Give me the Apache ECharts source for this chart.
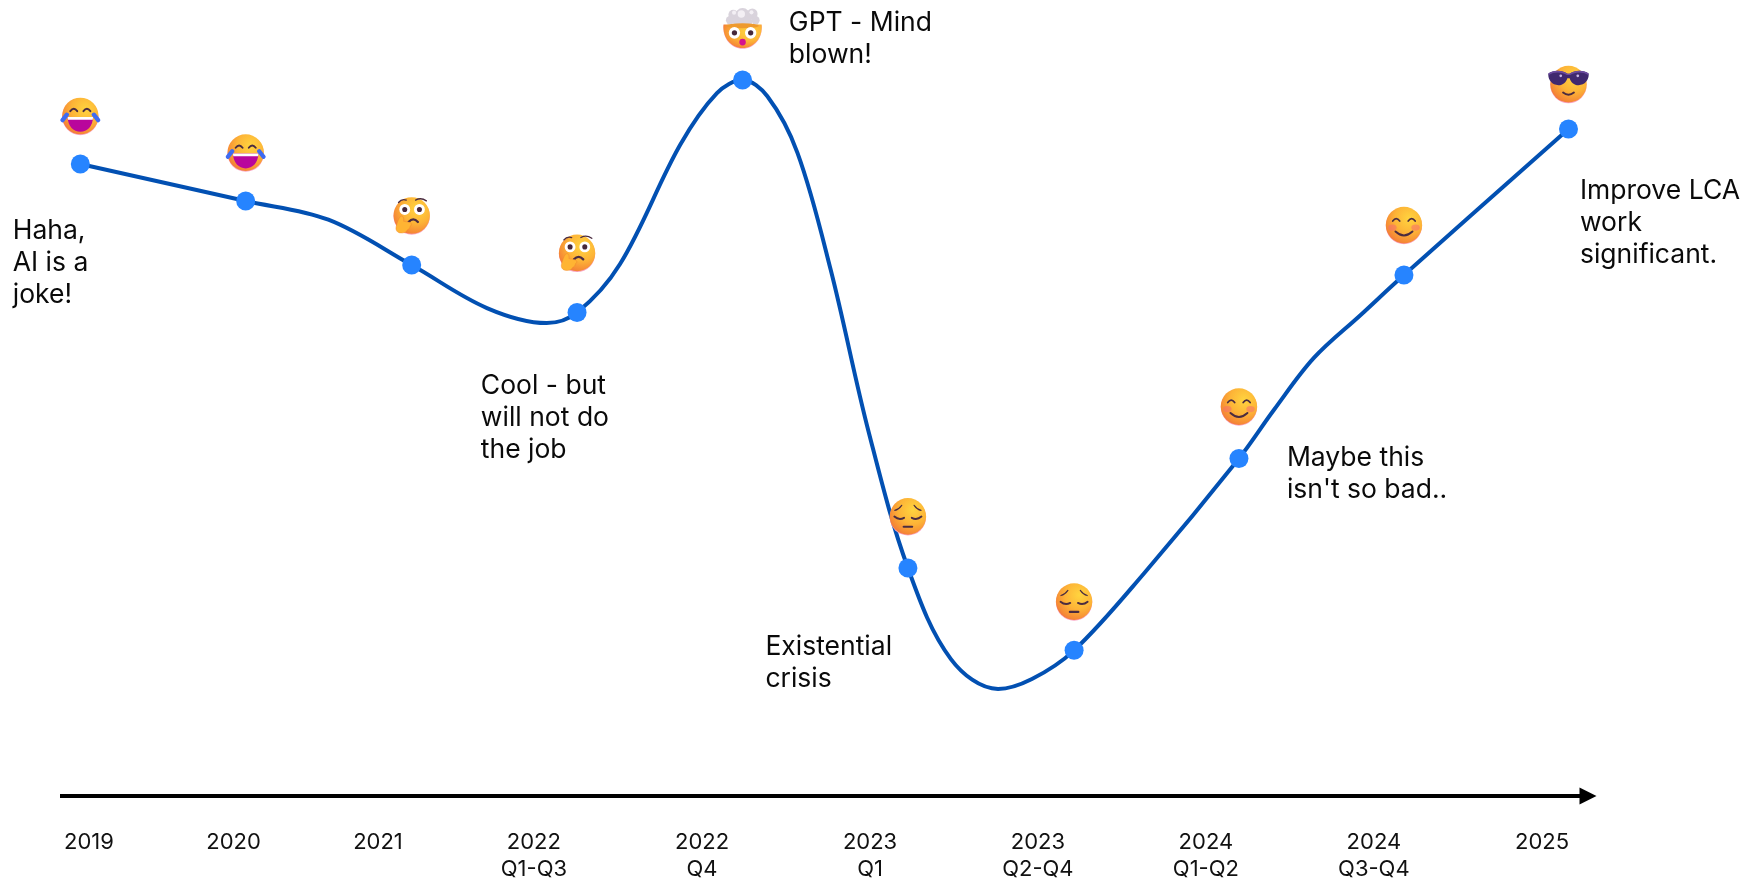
<!DOCTYPE html>
<html>
<head>
<meta charset="utf-8">
<style>html,body{margin:0;padding:0;background:#fff}#c{width:1750px;height:880px}</style>
<script src="https://cdn.jsdelivr.net/npm/echarts@6/dist/echarts.min.js"></script>
</head>
<body>
<div id="c"></div>
<script>
// Milestones (timeline position, sentiment score)
const milestoneX = [0, 1, 2.004, 3.004, 4.005, 5.005, 6.01, 7.007, 8.005, 9];
const milestoneV = [79.4, 74.75, 66.7, 60.74, 89.95, 28.64, 18.3, 42.4, 65.45, 83.79];
// Trace of the hand-drawn curve
const curveX = [0, 1, 1.5, 2.004, 2.459, 2.82, 3.004, 3.264, 3.627, 3.85, 4.005, 4.155, 4.337, 4.538, 4.768, 5.005, 5.265, 5.55, 5.755, 6.01, 6.435, 7.007, 7.218, 7.46, 7.743, 8.005, 9];
const curveV = [79.4, 74.75, 72.4, 66.7, 61.3, 59.42, 60.74, 66.83, 81.78, 88.3, 89.95, 87.9, 80.8, 66.1, 45.7, 28.64, 17.2, 13.45, 14.7, 18.3, 28.02, 42.4, 48.49, 55.03, 60.43, 65.45, 83.79];
// Emoji
const emojiV = [85.4, 80.8, 72.9, 68.2, 96.4, 35.1, 24.4, 48.9, 71.7, 89.4];
const emojiKinds = ['joy', 'joy', 'think', 'think', 'blown', 'pensive', 'pensive', 'smile', 'smile', 'cool'];
// Timeline labels
const tickLabels = ['2019', '2020', '2021', '2022\nQ1-Q3', '2022\nQ4', '2023\nQ1', '2023\nQ2-Q4', '2024\nQ1-Q2', '2024\nQ3-Q4', '2025'];
const tickX = [0.052, 0.927, 1.80, 2.743, 3.76, 4.776, 5.791, 6.807, 7.823, 8.84];
// Annotations
const noteTexts = ['Haha,\nAI is a\njoke!', 'Cool - but\nwill not do\nthe job', 'GPT - Mind\nblown!', 'Existential\ncrisis', "Maybe this\nisn't so bad..", 'Improve LCA\nwork\nsignificant.'];
const noteX = [-0.412, 2.419, 4.282, 4.14, 7.294, 9.066];
const noteV = [66.9, 47.45, 95.15, 16.7, 40.45, 72.0];

const defs = '<defs><radialGradient id="f" cx=".64" cy=".32" r=".78"><stop offset="0" stop-color="#FFD43F"/><stop offset=".5" stop-color="#FDB437"/><stop offset=".82" stop-color="#F68C35"/><stop offset="1" stop-color="#EF6F3F"/></radialGradient></defs>';
const face = '<circle cx="50" cy="51.5" r="47" fill="#F9A6C4"/><circle cx="50" cy="49.5" r="47" fill="url(#f)"/>';
const ink = 'fill="none" stroke="#4B2C40" stroke-linecap="round"';
const wide = (x, y) => '<circle cx="' + x + '" cy="' + y + '" r="14" fill="#fff"/><circle cx="' + x + '" cy="' + y + '" r="6.5" fill="#46283A"/>';
const icons = {
  joy: face + '<path d="M24 37q9-12 18 0M58 37q9-12 18 0" ' + ink + ' stroke-width="5"/>' +
    '<path d="M17 52h66c-1 24-15 38-33 38S18 76 17 52z" fill="#B9069C"/><path d="M17 52h66l-1 7H18z" fill="#fff"/>' +
    '<path d="M4 60L15 46M96 60L85 46" fill="none" stroke="#3F6BF2" stroke-width="11" stroke-linecap="round"/>',
  think: face + '<path d="M16 16q8-10 20-6M60 10q14-8 28 2" ' + ink + ' stroke-width="3.5"/>' + wide(32, 34) + wide(70, 34) +
    '<path d="M42 66q12-13 24 0" ' + ink + ' stroke-width="6"/>' +
    '<path d="M21 52c6-3 9 2 8 12l16 3c6 2 5 8 1 10-1 6-4 8-7 9-2 6-10 10-20 8-9-2-12-10-8-20 2-8 6-18 10-22z" fill="#FFB433" stroke="#F0822F" stroke-width="1"/>',
  blown: '<path d="M3 42h94c3 32-19 56-47 56S0 74 3 42z" fill="#F9A6C4"/><path d="M3 40h94c3 32-19 56-47 56S0 72 3 40z" fill="url(#f)"/>' +
    '<g fill="#D9D3DC"><circle cx="50" cy="20" r="19"/><circle cx="27" cy="17" r="12"/><circle cx="74" cy="15" r="13"/><circle cx="19" cy="30" r="10"/><circle cx="82" cy="30" r="10"/><circle cx="38" cy="33" r="12"/><circle cx="62" cy="33" r="12"/></g>' +
    '<g fill="#F3EFF4"><circle cx="47" cy="15" r="9"/><circle cx="29" cy="12" r="5"/><circle cx="72" cy="11" r="5"/></g>' +
    '<ellipse cx="50" cy="43" rx="40" ry="6" fill="#EE9A2E"/>' + wide(30, 60) + wide(70, 60) +
    '<circle cx="50" cy="82" r="8" fill="#D5128E"/>',
  pensive: face + '<path d="M16 34q10-2 18-13M84 34q-10-2-18-13" ' + ink + ' stroke-width="3"/>' +
    '<path d="M15 50q12 10 25 3M85 50q-12 10-25 3" ' + ink + ' stroke-width="5"/><path d="M39 76h22" ' + ink + ' stroke-width="5.5"/>',
  smile: face + '<ellipse cx="20" cy="56" rx="11" ry="8" fill="#F56D6D" opacity=".55"/><ellipse cx="80" cy="56" rx="11" ry="8" fill="#F56D6D" opacity=".55"/>' +
    '<path d="M21 39q9-12 18 0M61 39q9-12 18 0" ' + ink + ' stroke-width="4.5"/><path d="M28 66q22 20 44 0" ' + ink + ' stroke-width="5"/>',
  cool: face + '<path d="M-2 22C12 12 34 14 46 22q4 2 8 0C66 14 88 12 102 22c2 14-8 30-26 30-12 0-20-8-23-18h-6c-3 10-11 18-23 18C6 52-4 36-2 22z" fill="#40296F"/>' +
    '<path d="M-2 22C12 12 34 14 46 22q4 2 8 0C66 14 88 12 102 22l-1 4C88 17 66 18 54 26h-8C34 18 12 17-1 26z" fill="#6C4BA0"/><circle cx="30" cy="28" r="3.5" fill="#C9B7E6"/><circle cx="74" cy="28" r="3.5" fill="#C9B7E6"/>' +
    '<path d="M36 71q14 11 28 0" ' + ink + ' stroke-width="5"/>'
};
const iconUri = k => 'image://data:image/svg+xml;charset=utf-8,' + encodeURIComponent(
  '<svg xmlns="http://www.w3.org/2000/svg" viewBox="-3 0 106 100" width="212" height="200">' + defs + icons[k] + '</svg>');

const FONT = 'Inter';
const chart = echarts.init(document.getElementById('c'), null, {renderer: 'canvas'});
chart.setOption({
  animation: false,
  backgroundColor: '#fff',
  grid: {left: 60, top: 0, width: 1528, height: 796, outerBoundsMode: 'none'},
  xAxis: {
    type: 'value', min: -0.123, max: 9.118, position: 'bottom',
    splitLine: {show: false}, axisTick: {show: false},
    axisLine: {onZero: false, lineStyle: {color: '#000', width: 4, cap: 'butt'}, symbol: ['none', 'triangle'], symbolSize: [17, 17], symbolOffset: [0, 0]},
    axisLabel: {
      customValues: tickX, margin: 33, interval: 0, hideOverlap: false,
      fontFamily: FONT, fontSize: 22, lineHeight: 27, color: '#111', verticalAlign: 'top', align: 'center',
      formatter: (v) => tickLabels[tickX.indexOf(v)]
    }
  },
  yAxis: {type: 'value', min: 0, max: 100, show: false},
  series: [
    {type: 'line', smooth: 0.35, showSymbol: false, symbol: 'none', silent: true, z: 2,
     lineStyle: {color: '#0250B2', width: 4},
     data: curveX.map((x, i) => [x, curveV[i]])},
    {type: 'scatter', symbol: 'circle', symbolSize: 19, silent: true, z: 3,
     itemStyle: {color: '#2684FF', opacity: 1},
     data: milestoneX.map((x, i) => [x, milestoneV[i]])},
    {type: 'scatter', silent: true, z: 4, clip: false,
     symbolSize: [41, 39],
     itemStyle: {opacity: 1},
     data: milestoneX.map((x, i) => ({value: [x, emojiV[i]], symbol: iconUri(emojiKinds[i]), symbolSize: emojiKinds[i] === 'blown' ? [43, 42] : undefined}))},
    {type: 'scatter', silent: true, z: 5, clip: false, symbol: 'circle', symbolSize: 1,
     itemStyle: {color: 'rgba(255,255,255,0)', opacity: 1},
     label: {show: true, position: 'right', distance: 0, align: 'left', verticalAlign: 'middle', opacity: 1,
       fontFamily: FONT, fontSize: 26.5, lineHeight: 32, color: '#0a0a0a',
       formatter: p => p.data.name},
     data: noteX.map((x, i) => ({value: [x, noteV[i]], name: noteTexts[i]}))}
  ]
});
</script>
</body>
</html>
